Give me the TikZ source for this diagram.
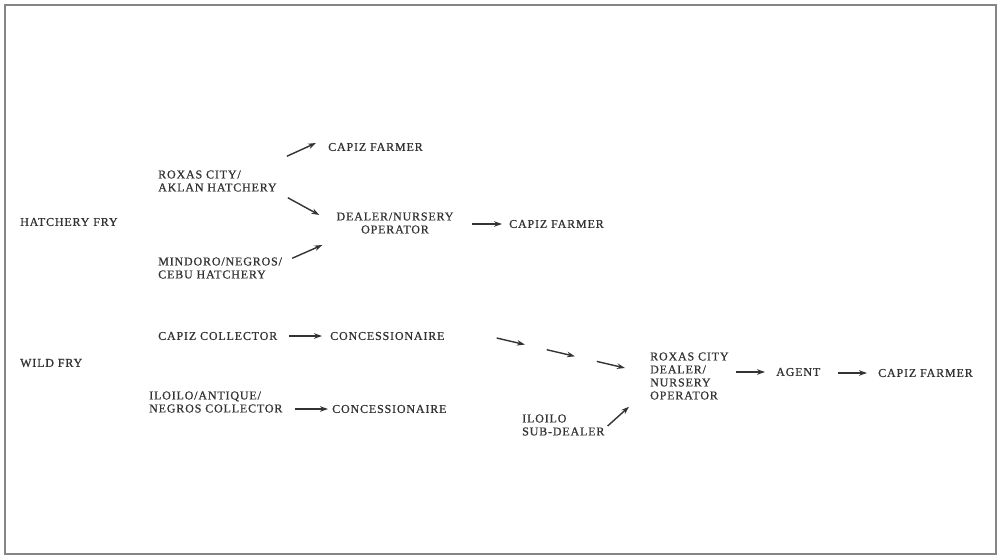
\documentclass[tikz,border=0pt]{standalone}
\usepackage{fontspec}
\setmainfont{Liberation Serif}[LetterSpace=7,FakeBold=0.8]
\usetikzlibrary{arrows.meta,calc}
\definecolor{ink}{HTML}{333333}
\definecolor{framec}{HTML}{858585}
\tikzset{
  lbl/.style={inner sep=0pt, text=ink, font=\fontsize{12}{13}\selectfont, align=left, anchor=west},
  lblc/.style={lbl, align=center, anchor=center},
  arr/.style={draw=ink, line width=1.4pt, -{Stealth[length=8pt,width=5.5pt]}},
}
\begin{document}
\begin{tikzpicture}[x=1pt,y=-1pt]
\useasboundingbox (0,0) rectangle (1001,557);
\draw[framec, line width=2.4pt] (5,5) rectangle (996,554);

% nodes
\node[lbl] (hf) at (20,222) {HATCHERY FRY};
\node[lbl] (wf) at (20,363) {WILD FRY};
\node[lbl] (rah) at (158,181) {ROXAS CITY/\\AKLAN HATCHERY};
\node[lbl] (cf1) at (328,147) {CAPIZ FARMER};
\node[lblc] (dno) at (395,223) {DEALER/NURSERY\\OPERATOR};
\node[lbl] (mnc) at (158,268) {MINDORO/NEGROS/\\CEBU HATCHERY};
\node[lbl] (cf2) at (509,224) {CAPIZ FARMER};
\node[lbl] (cc) at (158,336) {CAPIZ COLLECTOR};
\node[lbl] (con1) at (330,336) {CONCESSIONAIRE};
\node[lbl] (ian) at (149,402) {ILOILO/ANTIQUE/\\NEGROS COLLECTOR};
\node[lbl] (con2) at (332,409) {CONCESSIONAIRE};
\node[lbl] (rcd) at (650,376) {ROXAS CITY\\DEALER/\\NURSERY\\OPERATOR};
\node[lbl] (isd) at (522,425) {ILOILO\\SUB-DEALER};
\node[lbl] (ag) at (776,372) {AGENT};
\node[lbl] (cf3) at (878,373) {CAPIZ FARMER};

% connectors
\draw[arr] ([shift={(10,-14)}]rah.north east) -- ([shift={(-12,-4)}]cf1.west);
\draw[arr] ([shift={(11,6)}]rah.south east) -- ([shift={(-17,-8)}]dno.west);
\draw[arr] ([shift={(10,1)}]mnc.north east) -- ([shift={(-14,22)}]dno.west);
\draw[arr, shorten <=18pt, shorten >=7pt] (dno.east |- cf2.west) -- (cf2.west);
\draw[arr, shorten <=12pt, shorten >=8pt] (cc.east) -- (con1.west);
\draw[arr, shorten <=12pt, shorten >=4pt] (ian.east |- con2.west) -- (con2.west);
\coordinate (cs) at ([shift={(52,2)}]con1.east);
\coordinate (ce) at ([shift={(-25,-8)}]rcd.west);
\draw[arr] (cs) -- ($(cs)!0.22!(ce)$);
\draw[arr] ($(cs)!0.39!(ce)$) -- ($(cs)!0.61!(ce)$);
\draw[arr] ($(cs)!0.78!(ce)$) -- (ce);
\draw[arr] ([shift={(3,1)}]isd.east) -- ([shift={(-21,7)}]rcd.south west);
\draw[arr, shorten <=7pt, shorten >=11pt] (rcd.east |- ag.west) -- (ag.west);
\draw[arr, shorten <=18pt, shorten >=11pt] (ag.east |- cf3.west) -- (cf3.west);
\end{tikzpicture}
\end{document}
